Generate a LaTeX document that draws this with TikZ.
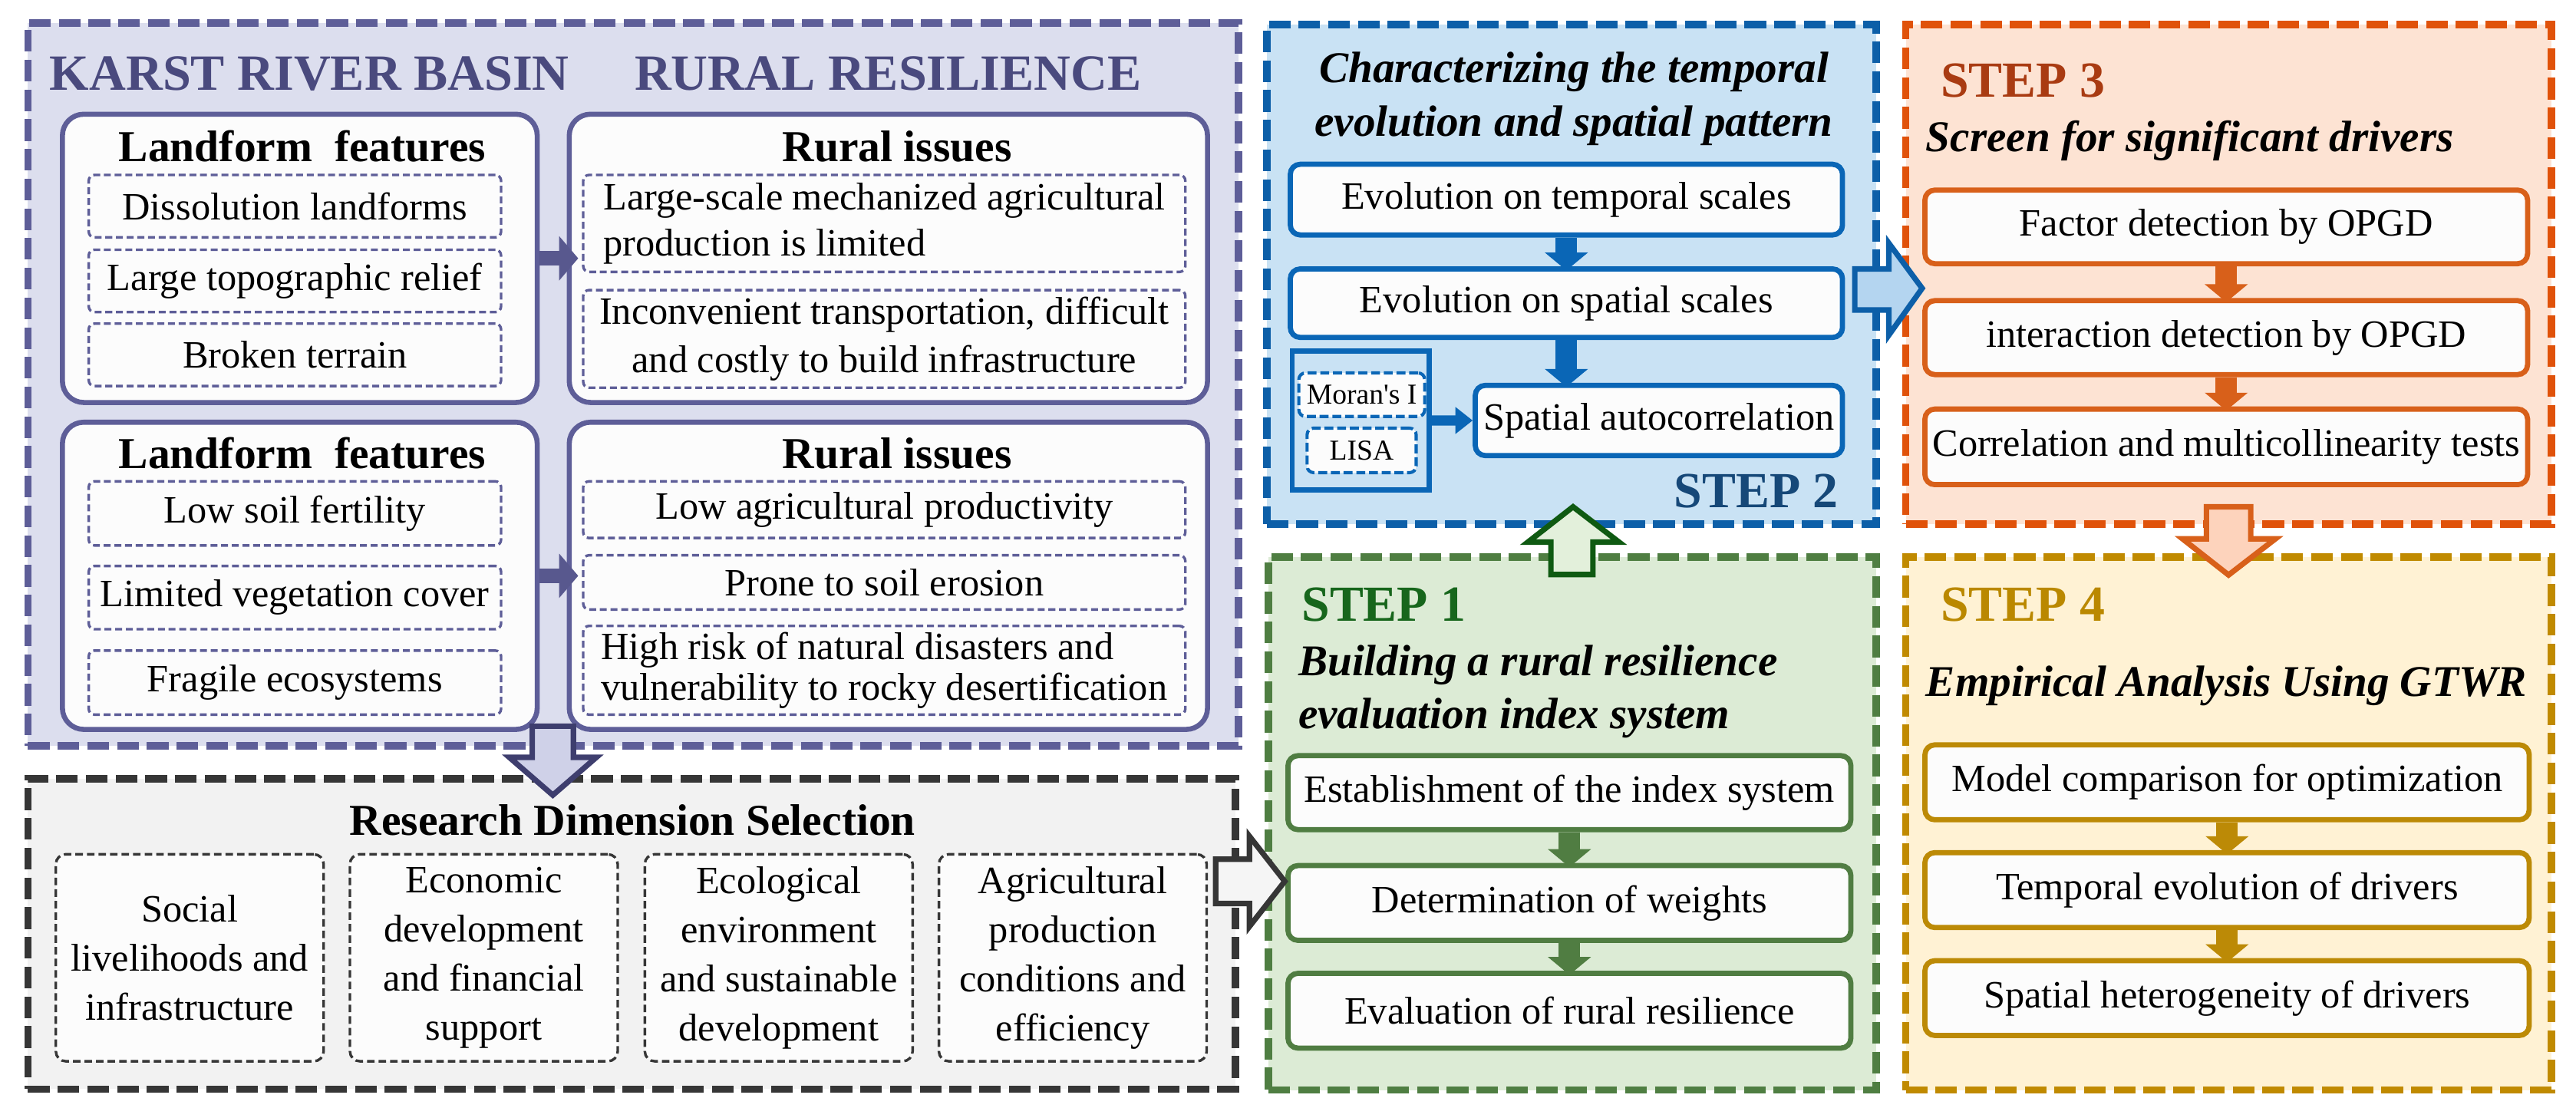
\documentclass[tikz,border=0pt]{standalone}
\usepackage{fontspec}
\setmainfont{Liberation Serif}
\usetikzlibrary{arrows.meta,fit}

\definecolor{lavfill}{HTML}{DCDEEE}
\definecolor{lavline}{HTML}{5E5E98}
\definecolor{lavtext}{HTML}{4A4A7E}
\definecolor{lavarrowfill}{HTML}{CFD1E8}
\definecolor{lavarrowline}{HTML}{3E3E6E}
\definecolor{karrowcol}{HTML}{58588E}
\definecolor{resfill}{HTML}{F2F2F2}
\definecolor{resline}{HTML}{363636}
\definecolor{stwofill}{HTML}{C9E2F4}
\definecolor{stwoline}{HTML}{0D5FA8}
\definecolor{stwobox}{HTML}{0A66B6}
\definecolor{stwotext}{HTML}{164878}
\definecolor{stwoarrow}{HTML}{B4D5F0}
\definecolor{sthrfill}{HTML}{FDE3D3}
\definecolor{sthrline}{HTML}{E0520A}
\definecolor{sthrbox}{HTML}{D8601A}
\definecolor{sthrtext}{HTML}{A93B12}
\definecolor{sthrarrow}{HTML}{FDD3BC}
\definecolor{sonefill}{HTML}{DCEBD5}
\definecolor{soneline}{HTML}{4F7E42}
\definecolor{sonebox}{HTML}{507D42}
\definecolor{sonetext}{HTML}{17661C}
\definecolor{sonearrowline}{HTML}{0F5A12}
\definecolor{sonearrow}{HTML}{E3F0DB}
\definecolor{sfourfill}{HTML}{FFF2D4}
\definecolor{sfourline}{HTML}{C08A00}
\definecolor{sfourbox}{HTML}{BC8A06}
\definecolor{sfourtext}{HTML}{BA8800}
\definecolor{boxfill}{HTML}{FCFCFC}

\newcommand\fBody{\fontsize{13.4}{17}\selectfont}
\newcommand\fKarst{\bfseries\fontsize{17.6}{19}\selectfont}
\newcommand\fHead{\bfseries\fontsize{15.3}{17}\selectfont}
\newcommand\fItal{\bfseries\itshape\fontsize{15.2}{18.5}\selectfont}
\newcommand\fStep{\bfseries\fontsize{17.5}{19}\selectfont}
\newcommand\fSmall{\fontsize{10}{11}\selectfont}

\begin{document}
\begin{tikzpicture}[x=0.02cm,y=-0.02cm,
  sz/.style 2 args={minimum width=#1*0.02cm, minimum height=#2*0.02cm},
  panel/.style={inner sep=0pt, line width=2.6pt, dash pattern=on 7.5pt off 2.8pt},
  txt/.style={inner sep=0pt},
  kbox/.style={inner sep=0pt, draw=lavline, fill=boxfill, line width=1.75pt, rounded corners=0.26cm},
  ksub/.style={inner sep=0pt, draw=lavline, fill=boxfill, line width=0.9pt, dash pattern=on 2.4pt off 1.3pt, rounded corners=0.07cm, font=\fBody, align=center},
  sbox/.style={inner sep=0pt, fill=boxfill, line width=1.8pt, rounded corners=0.12cm, font=\fBody, align=center},
  rsub/.style={inner sep=0pt, draw=resline, fill=boxfill, line width=0.9pt, dash pattern=on 2.6pt off 1.4pt, rounded corners=0.12cm, font=\fBody, align=center, sz={163}{126}},
  msub/.style={inner sep=0pt, draw=stwobox, fill=boxfill, line width=1.1pt, dash pattern=on 3.1pt off 1.3pt, rounded corners=0.08cm, font=\fSmall},
  sarrow/.style={line width=7.5pt, shorten >=-0.05cm, -{Triangle[width=14.6pt,length=6.2pt]}},
  karrow/.style={line width=4.9pt, karrowcol, -{Triangle[width=15pt,length=6.6pt]}},
  bigarrow/.style={line width=1.9pt, line join=miter}
]
\useasboundingbox (0,0) rectangle (1568,674);

% ---------------- KARST panel ----------------
\node[panel, draw=lavline, fill=lavfill, fit={(17,14) (754,454)}] (karst) {};
\node[txt, font=\fKarst, text=lavtext, anchor=west] (kt1) at (30,45) {KARST RIVER BASIN};
\node[txt, font=\fKarst, text=lavtext, anchor=west] (kt2) at (386,45) {RURAL RESILIENCE};

\node[kbox, sz={289}{175.5}] (ba) at (182.5,157.25) {};
\node[kbox, sz={388.5}{175.5}] (bb) at (540.75,157.25) {};
\node[kbox, sz={289}{187}] (bc) at (182.5,350.5) {};
\node[kbox, sz={388.5}{187}] (bd) at (540.75,350.5) {};

\node[txt, font=\fHead] (ta) at (184,89) {Landform\ \ features};
\node[txt, font=\fHead] (tb) at (546,89) {Rural issues};
\node[txt, font=\fHead] (tc) at (184,276) {Landform\ \ features};
\node[txt, font=\fHead] (td) at (546,276) {Rural issues};

\node[ksub, sz={251}{38}] (a1) at (179.5,125.5) {Dissolution landforms};
\node[ksub, sz={251}{38}] (a2) at (179.5,171) {Large topographic relief};
\node[ksub, sz={251}{38}] (a3) at (179.5,216) {Broken terrain};

\node[ksub, sz={366.5}{59}, align=left, font=\fontsize{13.4}{15.8}\selectfont] (b1) at (538.25,136) {Large-scale mechanized agricultural\\production is limited};
\node[ksub, sz={366.5}{59.4}, font=\fontsize{13.4}{16.6}\selectfont] (b2) at (538.25,206.3) {Inconvenient transportation, difficult\\and costly to build infrastructure};

\node[ksub, sz={251}{39}] (c1) at (179.5,312.5) {Low soil fertility};
\node[ksub, sz={251}{38.5}] (c2) at (179.5,363.75) {Limited vegetation cover};
\node[ksub, sz={251}{39}] (c3) at (179.5,415.5) {Fragile ecosystems};

\node[ksub, sz={366.5}{34.5}] (d1) at (538.25,310.25) {Low agricultural productivity};
\node[ksub, sz={366.5}{33}] (d2) at (538.25,354.5) {Prone to soil erosion};
\node[ksub, sz={366.5}{54}, align=left, font=\fontsize{13.4}{14}\selectfont] (d3) at (538.25,408) {High risk of natural disasters and\\vulnerability to rocky desertification};

\draw[karrow] (ba.east) -- ([xshift=0.14cm]bb.west);
\draw[karrow] (bc.east) -- ([xshift=0.14cm]bd.west);

% ---------------- Research panel ----------------
\node[panel, draw=resline, fill=resfill, fit={(17,474) (752,663)}] (res) {};
\node[txt, font=\fHead] (rt) at (385,499) {Research Dimension Selection};
\node[rsub] (r1) at (115.5,583) {Social\\livelihoods and\\infrastructure};
\node[rsub] (r2) at (294.5,583) {Economic\\development\\and financial\\support};
\node[rsub] (r3) at (474,583) {Ecological\\environment\\and sustainable\\development};
\node[rsub] (r4) at (653,583) {Agricultural\\production\\conditions and\\efficiency};

% ---------------- STEP 2 ----------------
\node[panel, draw=stwoline, fill=stwofill, fit={(771,15) (1142,319)}] (s2) {};
\node[txt, font=\fItal, align=center] (s2t) at (958,60) {Characterizing the temporal\\evolution and spatial pattern};
\node[sbox, draw=stwobox, sz={336.1}{43}] (e1) at (953.45,121.5) {Evolution on temporal scales};
\node[sbox, draw=stwobox, sz={336.1}{41.7}] (e2) at (953.45,184.55) {Evolution on spatial scales};
\node[sbox, draw=stwobox, sz={223.5}{42.7}] (e3) at (1009.75,255.95) {Spatial autocorrelation};
\node[inner sep=0pt, draw=stwobox, line width=1.8pt, fit={(786.6,213.7) (870,298.2)}] (mb) {};
\node[msub, sz={76.6}{26.5}] (mo) at (828.9,240.25) {{\addfontfeature{Ligatures=TeXOff}Moran's I}};
\node[msub, sz={66.4}{27.1}] (li) at (828.8,274.15) {LISA};
\draw[sarrow, stwobox] (e1.south) -- (e2.north);
\draw[sarrow, stwobox] (e2.south) -- (e2.south |- e3.north);
\draw[line width=3.5pt, stwobox, -{Triangle[width=9pt,length=6pt]}] (mb.east) -- (e3.west);
\node[txt, font=\fStep, text=stwotext] (s2l) at (1069,299) {STEP 2};

% ---------------- STEP 3 ----------------
\node[panel, draw=sthrline, fill=sthrfill, fit={(1160,15) (1553,319)}] (s3) {};
\node[txt, font=\fStep, text=sthrtext, anchor=west] (s3l) at (1181,49) {STEP 3};
\node[txt, font=\fItal, anchor=west] (s3t) at (1172,85.5) {Screen for significant drivers};
\node[sbox, draw=sthrbox, sz={366.8}{44.8}] (f1) at (1355.1,138.1) {Factor detection by OPGD};
\node[sbox, draw=sthrbox, sz={366.8}{45}] (f2) at (1355.1,205.5) {interaction detection by OPGD};
\node[sbox, draw=sthrbox, sz={366.8}{46}] (f3) at (1355.1,272) {Correlation and multicollinearity tests};
\draw[sarrow, sthrbox] (f1.south) -- (f2.north);
\draw[sarrow, sthrbox] (f2.south) -- (f3.north);

% ---------------- STEP 1 ----------------
\node[panel, draw=soneline, fill=sonefill, fit={(772,339) (1142,663.5)}] (s1) {};
\node[txt, font=\fStep, text=sonetext, anchor=west] (s1l) at (792,368) {STEP 1};
\node[txt, font=\fItal, align=left, anchor=west] (s1t) at (790,421) {Building a rural resilience\\evaluation index system};
\node[sbox, draw=sonebox, sz={342.6}{45}] (g1) at (955.3,482.5) {Establishment of the index system};
\node[sbox, draw=sonebox, sz={342.6}{45.5}] (g2) at (955.3,549.65) {Determination of weights};
\node[sbox, draw=sonebox, sz={342.6}{45.5}] (g3) at (955.3,615.25) {Evaluation of rural resilience};
\draw[sarrow, sonebox] (g1.south) -- (g2.north);
\draw[sarrow, sonebox] (g2.south) -- (g3.north);

% ---------------- STEP 4 ----------------
\node[panel, draw=sfourline, fill=sfourfill, fit={(1160,339) (1553,663.5)}] (s4) {};
\node[txt, font=\fStep, text=sfourtext, anchor=west] (s4l) at (1181,368) {STEP 4};
\node[txt, font=\fItal, anchor=west] (s4t) at (1172,417.5) {Empirical Analysis Using GTWR};
\node[sbox, draw=sfourbox, sz={367.8}{45.6}] (h1) at (1355.6,476.2) {Model comparison for optimization};
\node[sbox, draw=sfourbox, sz={367.8}{45.6}] (h2) at (1355.6,541.8) {Temporal evolution of drivers};
\node[sbox, draw=sfourbox, sz={367.8}{45.5}] (h3) at (1355.6,607.55) {Spatial heterogeneity of drivers};
\draw[sarrow, sfourbox] (h1.south) -- (h2.north);
\draw[sarrow, sfourbox] (h2.south) -- (h3.north);

% ---------------- block arrows between panels ----------------
\draw[bigarrow, draw=lavarrowline, fill=lavarrowfill]
  (324,442) -- (324,461) -- (310,461) -- (336.5,484) -- (363,461) -- (349,461) -- (349,442) -- cycle;
\draw[bigarrow, draw=resline, fill=white!96!black]
  (740,523) -- (760.5,523) -- (760.5,509) -- (782,536.5) -- (760.5,564) -- (760.5,550) -- (740,550) -- cycle;
\draw[bigarrow, draw=sonearrowline, fill=sonearrow]
  (944,349.7) -- (944,330) -- (930,330) -- (957.5,308.5) -- (985.5,330) -- (969.6,330) -- (969.6,349.7) -- cycle;
\draw[bigarrow, draw=stwoline, fill=stwoarrow]
  (1129,163.7) -- (1149.7,163.7) -- (1149.7,148) -- (1170,175.5) -- (1149.7,204) -- (1149.7,188.7) -- (1129,188.7) -- cycle;
\draw[bigarrow, draw=sthrbox, fill=sthrarrow]
  (1343,308.5) -- (1343,328) -- (1328.5,328) -- (1356.5,350) -- (1385,328) -- (1370,328) -- (1370,308.5) -- cycle;
\end{tikzpicture}
\end{document}
